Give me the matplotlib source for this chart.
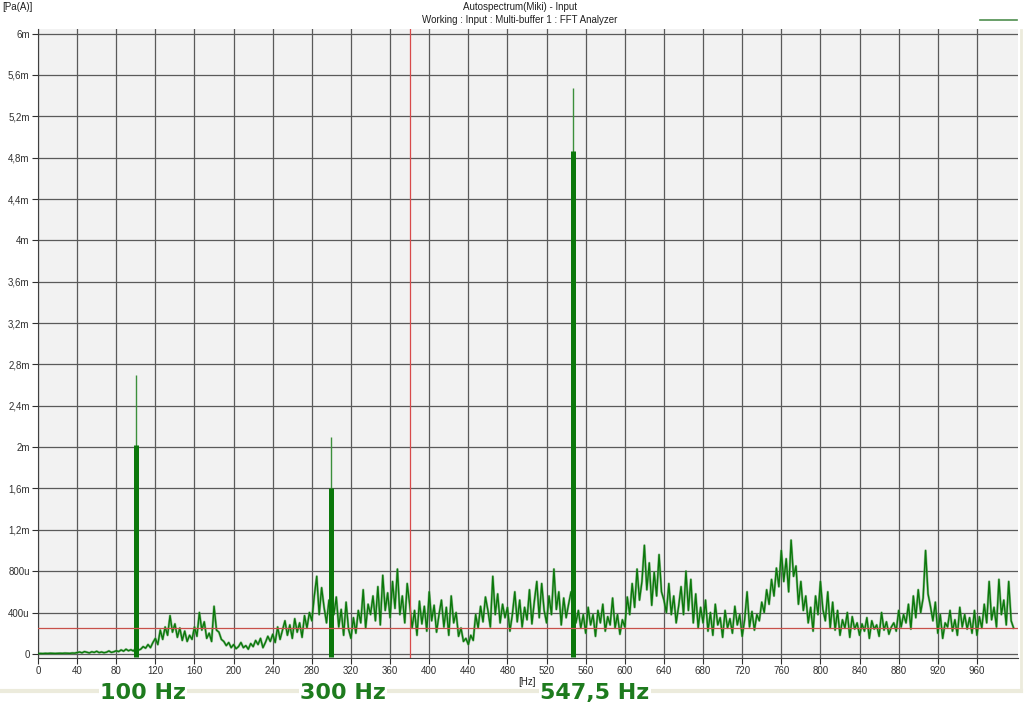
import numpy as np
import matplotlib
matplotlib.use("Agg")
import matplotlib.pyplot as plt
from matplotlib.lines import Line2D

# ------------------------- data -------------------------
# noise floor of the autospectrum, one value every 2.5 Hz, in micro Pa
step_hz = 2.5
noise_u = [
    3, 4, 3, 5, 4, 6, 5, 4, 5, 6, 5, 7, 6, 5, 8, 7,                                   # 0-37.5
    12, 18, 10, 22, 15, 9, 20, 14, 25, 12, 18, 11, 16, 28, 14, 20,                     # 40-77.5
    30, 22, 38, 26, 45, 30, 40, 28, 55, 35, 45, 70, 55, 90, 60, 110,                   # 80-117.5
    150, 90, 230, 140, 260, 180, 370, 210, 290, 160, 250, 130, 220, 120, 180, 140,     # 120-157.5
    260, 170, 400, 230, 310, 150, 200, 120, 460, 230, 210, 140, 120, 80, 110, 60,      # 160-197.5
    90, 50, 70, 110, 60, 80, 45, 100, 70, 130, 90, 150, 60, 110, 170, 120,             # 200-237.5
    190, 110, 260, 140, 230, 320, 180, 280, 150, 340, 210, 300, 160, 370, 250, 400,    # 240-277.5
    320, 560, 750, 380, 640, 450, 300, 520, 420, 380, 550, 260, 430, 180, 500, 240,    # 280-317.5
    150, 350, 200, 420, 300, 620, 250, 480, 380, 560, 320, 650, 280, 760, 420, 590,    # 320-357.5
    350, 700, 440, 820, 380, 560, 300, 680, 480, 250, 420, 180, 510, 290, 460, 220,    # 360-397.5
    600, 320, 470, 210, 380, 520, 260, 450, 180, 560, 300, 400, 170, 250, 120, 150,    # 400-437.5
    90, 180, 130, 380, 250, 460, 310, 550, 420, 260, 750, 380, 580, 300, 480, 350,     # 440-477.5
    450, 220, 380, 600, 310, 520, 260, 450, 330, 620, 290, 510, 700, 350, 680, 420,    # 480-517.5
    300, 560, 380, 820, 430, 600, 280, 540, 350, 480, 600, 520, 300, 420, 250, 380,    # 520-557.5
    200, 450, 280, 380, 170, 420, 300, 480, 220, 360, 280, 540, 250, 380, 190, 330,    # 560-597.5
    260, 550, 380, 680, 450, 820, 520, 700, 1050, 620, 880, 470, 790, 560, 960, 600,   # 600-637.5
    520, 400, 680, 380, 560, 300, 460, 650, 380, 800, 420, 720, 300, 580, 250, 450,    # 640-677.5
    300, 520, 220, 400, 180, 480, 280, 350, 160, 420, 250, 340, 200, 460, 280, 380,    # 680-717.5
    170, 330, 600, 260, 410, 230, 380, 320, 500, 400, 620, 480, 720, 560, 830, 650,    # 720-757.5
    1000, 700, 920, 600, 1100, 750, 850, 480, 700, 420, 560, 300, 450, 220, 560, 380,  # 760-797.5
    700, 430, 320, 600, 250, 500, 230, 420, 180, 330, 250, 400, 160, 360, 240, 300,    # 800-837.5
    180, 290, 220, 350, 150, 320, 240, 280, 170, 400, 230, 310, 190, 260, 300, 220,    # 840-877.5
    420, 260, 380, 300, 480, 240, 560, 350, 620, 400, 540, 1000, 580, 460, 320, 500,   # 880-917.5
    200, 380, 150, 300, 260, 420, 220, 330, 180, 450, 260, 380, 240, 350, 200, 420,    # 920-957.5
    180, 360, 250, 480, 300, 700, 330, 450, 260, 720, 380, 520, 280, 700, 320, 250,    # 960-997.5
]

# tonal peaks: frequency, level of the thick bar and of the thin tip (Pa)
peak_hz = [100, 300, 547.5]
peak_bar = [2.02e-3, 1.60e-3, 4.86e-3]
peak_tip = [2.70e-3, 2.10e-3, 5.47e-3]
peak_labels = ["100 Hz", "300 Hz", "547,5 Hz"]

cursor_hz = 380
cursor_level = 255e-6

x_ticks = list(range(0, 1000, 40))
y_ticks = [0, 400e-6, 800e-6, 1.2e-3, 1.6e-3, 2e-3, 2.4e-3, 2.8e-3, 3.2e-3, 3.6e-3,
           4e-3, 4.4e-3, 4.8e-3, 5.2e-3, 5.6e-3, 6e-3]
y_tick_labels = ["0", "400u", "800u", "1,2m", "1,6m", "2m", "2,4m", "2,8m", "3,2m",
                 "3,6m", "4m", "4,4m", "4,8m", "5,2m", "5,6m", "6m"]

# ------------------------- figure ---------------------------
green = "#0b780b"
fig = plt.figure(figsize=(10.24, 7.15), dpi=100)
fig.patch.set_facecolor("white")
ax = fig.add_axes([38 / 1024, 1 - 658 / 715, 980 / 1024, 629 / 715])
ax.set_facecolor("#f2f2f2")

freqs = np.arange(len(noise_u)) * step_hz
ax.plot(freqs, np.array(noise_u) * 1e-6, color="#5aa05a", lw=1.8, alpha=0.6, zorder=2)
ax.plot(freqs, np.array(noise_u) * 1e-6, color=green, lw=1.0, zorder=3)

# peaks: thin tip then thick bar
ax.vlines(peak_hz, 0, peak_tip, color="#3c8f3c", lw=1, zorder=4)
ax.vlines(peak_hz, -0.03e-3, peak_bar, color=green, lw=3.6, zorder=5)

# cursor lines
ax.axvline(cursor_hz, color="#d84a4a", lw=0.9, zorder=6)
ax.axhline(cursor_level, color="#c8504a", lw=0.9, zorder=6)

ax.set_xlim(0, 1002)
ax.set_ylim(-0.04e-3, 6.045e-3)
ax.set_xticks(x_ticks)
ax.set_xticklabels([str(t) for t in x_ticks])
ax.set_yticks(y_ticks)
ax.set_yticklabels(y_tick_labels)
ax.tick_params(labelsize=7, colors="#303030", length=4, width=0.8, pad=2)
for lab in ax.get_xticklabels() + ax.get_yticklabels():
    lab.set_family("Liberation Sans")
ax.grid(True, color="#5a5a5a", lw=0.9)
ax.set_axisbelow(True)
for side in ["top", "right"]:
    ax.spines[side].set_visible(False)
for side in ["left", "bottom"]:
    ax.spines[side].set_color("#404040")

# header texts
fig.text(520 / 1024, 1 - 7 / 715, "Autospectrum(Miki) - Input", ha="center", va="center",
         fontsize=7, family="Liberation Sans", color="#202020")
fig.text(520 / 1024, 1 - 20 / 715, "Working : Input : Multi-buffer 1 : FFT Analyzer",
         ha="center", va="center", fontsize=7, family="Liberation Sans", color="#202020")
fig.text(2 / 1024, 1 - 7 / 715, "[Pa(A)]", ha="left", va="center", fontsize=7,
         family="Liberation Sans", color="#202020")
fig.text(527 / 1024, 1 - 682 / 715, "[Hz]", ha="center", va="center", fontsize=7,
         family="Liberation Sans", color="#202020")

# legend stub top right
fig.add_artist(Line2D([980 / 1024, 1017 / 1024], [1 - 20 / 715, 1 - 20 / 715],
                      color="#4f8f4f", lw=1.2))

# window border behind the labels
fig.add_artist(Line2D([0, 1021 / 1024], [1 - 691 / 715, 1 - 691 / 715],
                      color="#ecebdc", lw=3, zorder=0))
fig.add_artist(Line2D([1021 / 1024, 1021 / 1024], [1 - 691 / 715, 1 - 30 / 715],
                      color="#ecebdc", lw=2, zorder=0))

# peak labels under the axis
label_x = [100, 300, 540]
for lx, txt in zip(label_x, peak_labels):
    fig.text(lx / 1024, 1 - 693 / 715, txt, ha="left", va="center", fontsize=16,
             fontweight="bold", color="#1e7b1e", family="DejaVu Sans",
             bbox=dict(facecolor="white", edgecolor="none", pad=1))

fig.savefig("out.png", dpi=100, facecolor="white")
